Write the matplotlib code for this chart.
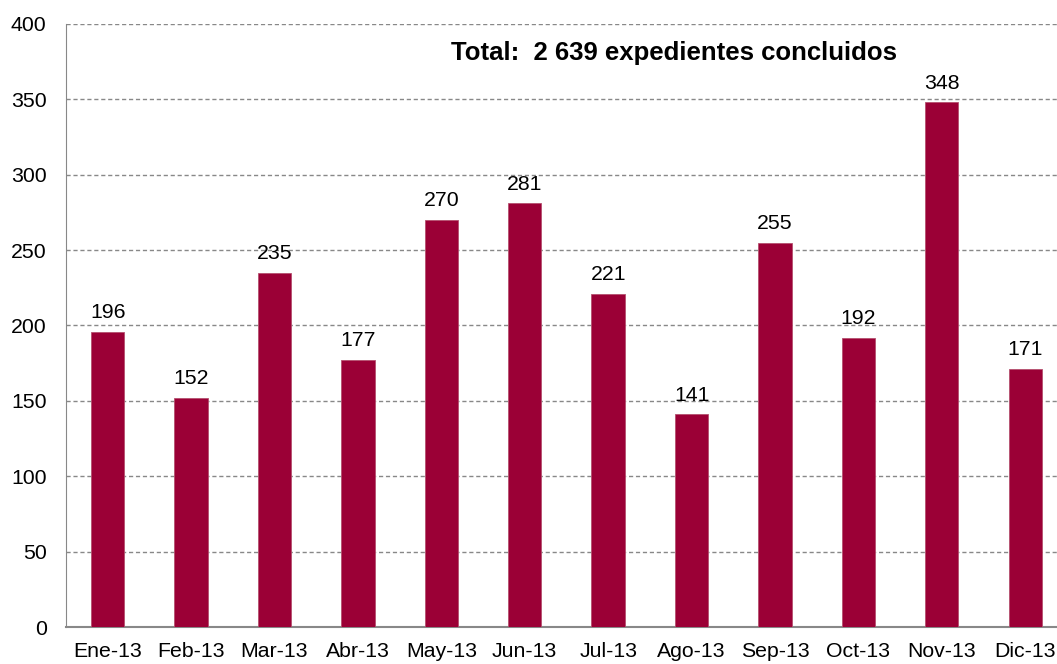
import matplotlib
matplotlib.use('Agg')
import matplotlib.pyplot as plt

# Datos mensuales
meses = ['Ene-13', 'Feb-13', 'Mar-13', 'Abr-13', 'May-13', 'Jun-13',
         'Jul-13', 'Ago-13', 'Sep-13', 'Oct-13', 'Nov-13', 'Dic-13']
expedientes = [196, 152, 235, 177, 270, 281, 221, 141, 255, 192, 348, 171]
titulo = 'Total:  2 639 expedientes concluidos'

plt.rcParams['font.family'] = ['Liberation Sans', 'DejaVu Sans']

fig = plt.figure(figsize=(10.57, 6.64), dpi=100)
ax = fig.add_axes([0.0624, 0.0557, 0.947, 0.9082])

x = range(len(meses))
barras = ax.bar(x, expedientes, width=0.4, color='#9B0036',
                edgecolor='#B5506E', linewidth=0.6, zorder=3)

# Etiquetas de valores
for rect, v in zip(barras, expedientes):
    ax.annotate(str(v), (rect.get_x() + rect.get_width() / 2, v),
                xytext=(0, 7), textcoords='offset points',
                ha='center', va='bottom', fontsize=15.3)

ax.set_xlim(-0.5, len(meses) - 0.5)
ax.set_ylim(0, 400)
ax.set_yticks(range(0, 401, 50))
ax.set_xticks(list(x))
ax.set_xticklabels(meses)
ax.tick_params(axis='both', length=0, labelsize=15.3)
ax.tick_params(axis='y', pad=14)
ax.tick_params(axis='x', pad=11)

ax.yaxis.grid(True, linestyle=(0, (3, 2)), color='#888888', linewidth=1, zorder=0)
for s in ['top', 'right']:
    ax.spines[s].set_visible(False)
ax.spines['left'].set_color('#888888')
ax.spines['bottom'].set_color('#888888')
ax.spines['bottom'].set_linewidth(1.5)

ax.text(6.79, 380.8, titulo, ha='center', va='center',
        fontsize=18.5, fontweight='bold')

fig.savefig('out.png', dpi=100)
